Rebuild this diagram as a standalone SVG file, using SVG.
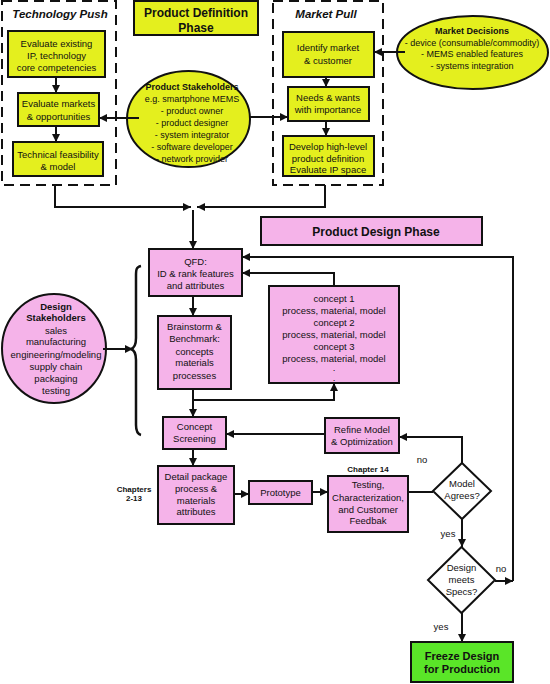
<svg xmlns="http://www.w3.org/2000/svg" width="550" height="684" viewBox="0 0 550 684">
<style>
text{font-family:"Liberation Sans",Arial,sans-serif;font-size:9.5px;fill:#111;text-anchor:middle}
.b{font-weight:bold}
.bi{font-weight:bold;font-style:italic;font-size:11.5px}
.h{font-weight:bold;font-size:12px}
.s{font-weight:bold;font-size:8px}
.e text{font-size:9px}
.y{fill:#e4ef1e;stroke:#111;stroke-width:2}
.p{fill:#f5b3e9;stroke:#111;stroke-width:2}
.g{fill:#5ae528;stroke:#111;stroke-width:2}
.w{fill:#fff;stroke:#111;stroke-width:2}
.d{fill:none;stroke:#111;stroke-width:2;stroke-dasharray:10 6}
.c{fill:none;stroke:#111;stroke-width:2}
</style>
<defs>
<marker id="ah" viewBox="0 0 10 10" refX="10" refY="5" markerWidth="9" markerHeight="8" markerUnits="userSpaceOnUse" orient="auto">
<path d="M0,0L10,5L0,10z" fill="#111"/>
</marker>
</defs>

<g id="tech-push-frame"><rect class="d" x="2" y="1" width="114" height="184"/><text class="bi" x="60" y="18">Technology Push</text></g>
<g id="market-pull-frame"><rect class="d" x="273" y="1" width="110" height="184"/><text class="bi" x="326" y="18">Market Pull</text></g>

<g id="pd-phase"><rect class="y" x="134" y="1" width="124" height="34"/><text class="h" x="196" y="16.5">Product Definition</text><text class="h" x="196" y="31.5">Phase</text></g>

<g id="eval-ip"><rect class="y" x="8" y="31" width="97" height="46"/><text x="56.5" y="46.5">Evaluate existing</text><text x="56.5" y="58.5">IP, technology</text><text x="56.5" y="70.5">core competencies</text></g>
<g id="eval-markets"><rect class="y" x="18" y="93" width="81" height="33"/><text x="58.5" y="107">Evaluate markets</text><text x="58.5" y="119.5">&amp; opportunities</text></g>
<g id="tech-feas"><rect class="y" x="13" y="142" width="90" height="34"/><text x="58" y="158">Technical feasibility</text><text x="58" y="169.5">&amp; model</text></g>

<g id="prod-stake" class="e"><ellipse class="y" cx="188.5" cy="119" rx="61.5" ry="48"/>
<text class="b" x="192" y="89.5">Product Stakeholders</text>
<text x="192" y="102">e.g. smartphone MEMS</text>
<text x="192" y="114">- product owner</text>
<text x="192" y="126">- product designer</text>
<text x="192" y="138">- system integrator</text>
<text x="192" y="150">- software developer</text>
<text x="192" y="162">- network provider</text></g>

<g id="identify"><rect class="y" x="283" y="32" width="91" height="45"/><text x="328" y="51">Identify market</text><text x="328" y="63.5">&amp; customer</text></g>
<g id="needs"><rect class="y" x="288" y="87" width="81" height="34"/><text x="328" y="101">Needs &amp; wants</text><text x="328" y="113">with importance</text></g>
<g id="develop"><rect class="y" x="283" y="136" width="91" height="40"/><text x="328" y="149.5">Develop high-level</text><text x="328" y="161.5">product definition</text><text x="328" y="173">Evaluate IP space</text></g>

<g id="market-dec" class="e"><ellipse class="y" cx="472.5" cy="52.5" rx="75.5" ry="36.5"/>
<text class="b" x="472" y="33.5">Market Decisions</text>
<text x="472" y="45.5">-  device (consumable/commodity)</text>
<text x="472" y="57">- MEMS enabled features</text>
<text x="472" y="68.5">-  systems integration</text></g>

<g id="pdes-phase"><rect class="p" x="261" y="217" width="221" height="28"/><text class="h" x="376" y="235.5">Product Design Phase</text></g>

<g id="qfd"><rect class="p" x="149" y="249" width="93" height="47"/><text x="195.5" y="265">QFD:</text><text x="195.5" y="277">ID &amp; rank features</text><text x="195.5" y="288.5">and attributes</text></g>

<g id="design-stake"><ellipse class="p" cx="54" cy="348.5" rx="52" ry="54.5"/>
<text class="b" x="56" y="309.5">Design</text>
<text class="b" x="56" y="321">Stakeholders</text>
<text x="56" y="333.5">sales</text>
<text x="56" y="345">manufacturing</text>
<text x="56" y="357.5">engineering/modeling</text>
<text x="56" y="369.5">supply chain</text>
<text x="56" y="381.5">packaging</text>
<text x="56" y="393.5">testing</text></g>

<g id="brace"><path d="M141,266 C136,267 136,270 136,276 L136,338 C136,345 134,348 131,349 C134,350 136,353 136,360 L136,425 C136,431 137,434 141,435" fill="none" stroke="#111" stroke-width="2.5"/></g>

<g id="brainstorm"><rect class="p" x="158" y="316" width="73" height="73"/><text x="194.5" y="329.5">Brainstorm &amp;</text><text x="194.5" y="342">Benchmark:</text><text x="194.5" y="354.5">concepts</text><text x="194.5" y="366">materials</text><text x="194.5" y="378.5">processes</text></g>

<g id="concepts"><rect class="p" x="269" y="286" width="130" height="97"/>
<text x="334" y="302">concept 1</text>
<text x="334" y="313.5">process, material, model</text>
<text x="334" y="326">concept 2</text>
<text x="334" y="337.5">process, material, model</text>
<text x="334" y="349.5">concept 3</text>
<text x="334" y="361.5">process, material, model</text>
<text x="334" y="371">.</text>
<text x="334" y="381">.</text></g>

<g id="screening"><rect class="p" x="163" y="417" width="63" height="32"/><text x="194.5" y="430">Concept</text><text x="194.5" y="442">Screening</text></g>
<g id="refine"><rect class="p" x="325" y="418" width="74" height="35"/><text x="362" y="432.5">Refine Model</text><text x="362" y="444.5">&amp; Optimization</text></g>

<g id="detail"><rect class="p" x="158" y="466" width="76" height="58"/><text x="196" y="479.5">Detail package</text><text x="196" y="492">process &amp;</text><text x="196" y="503.5">materials</text><text x="196" y="515">attributes</text></g>
<g id="chapters"><text class="s" x="134" y="492">Chapters</text><text class="s" x="134" y="501">2-13</text></g>

<g id="prototype"><rect class="p" x="249" y="481" width="63" height="23"/><text x="280.5" y="495.5">Prototype</text></g>

<g id="testing"><rect class="p" x="328" y="476" width="80" height="56"/><text x="368" y="488">Testing,</text><text x="368" y="501">Characterization,</text><text x="368" y="512.5">and Customer</text><text x="368" y="524">Feedbak</text><text class="s" x="368" y="472">Chapter 14</text></g>

<g id="model-agrees"><polygon class="w" points="462,463 491,491 462,519 433,491"/><text x="462" y="487">Model</text><text x="462" y="499">Agrees?</text></g>
<g id="design-meets"><polygon class="w" points="461.5,547 495,580 461.5,613 428,580"/><text x="461.5" y="570.5">Design</text><text x="461.5" y="583">meets</text><text x="461.5" y="595">Specs?</text></g>

<g id="freeze"><rect class="g" x="411" y="642" width="102" height="40"/><text class="b" x="462" y="660" style="font-size:11px">Freeze Design</text><text class="b" x="462" y="673" style="font-size:11px">for Production</text></g>

<g id="connectors" class="c" marker-end="url(#ah)">
<line x1="56" y1="77" x2="56" y2="93"/>
<line x1="56" y1="126" x2="56" y2="142"/>
<line x1="139" y1="118" x2="99" y2="118"/>
<line x1="249" y1="117" x2="288" y2="117"/>
<line x1="405" y1="52" x2="374" y2="52"/>
<line x1="326" y1="77" x2="326" y2="87"/>
<line x1="326" y1="121" x2="326" y2="136"/>
<polyline points="55,185 55,207 191,207"/>
<polyline points="325,185 325,207 197,207"/>
<line x1="193" y1="210" x2="193" y2="249"/>
<line x1="193" y1="296" x2="193" y2="316"/>
<line x1="193" y1="389" x2="193" y2="417"/>
<polyline points="193,400 334,400 334,383"/>
<polyline points="334,286 334,273 242,273"/>
<line x1="495" y1="581" x2="513" y2="581"/>
<polyline points="513,581 513,257 242,257"/>
<line x1="325" y1="434" x2="226" y2="434"/>
<polyline points="462,463 462,437 399,437"/>
<line x1="193" y1="449" x2="193" y2="466"/>
<line x1="234" y1="494" x2="249" y2="494"/>
<line x1="312" y1="492" x2="328" y2="492"/>
<line x1="408" y1="492" x2="433" y2="492" marker-end="none"/>
<line x1="462" y1="519" x2="462" y2="547"/>
<line x1="462" y1="613" x2="462" y2="642"/>
<line x1="103" y1="349" x2="133" y2="349"/>
</g>
<g id="labels">
<text x="422" y="463">no</text>
<text x="448" y="537">yes</text>
<text x="501" y="572">no</text>
<text x="441" y="630">yes</text>
</g>
</svg>
